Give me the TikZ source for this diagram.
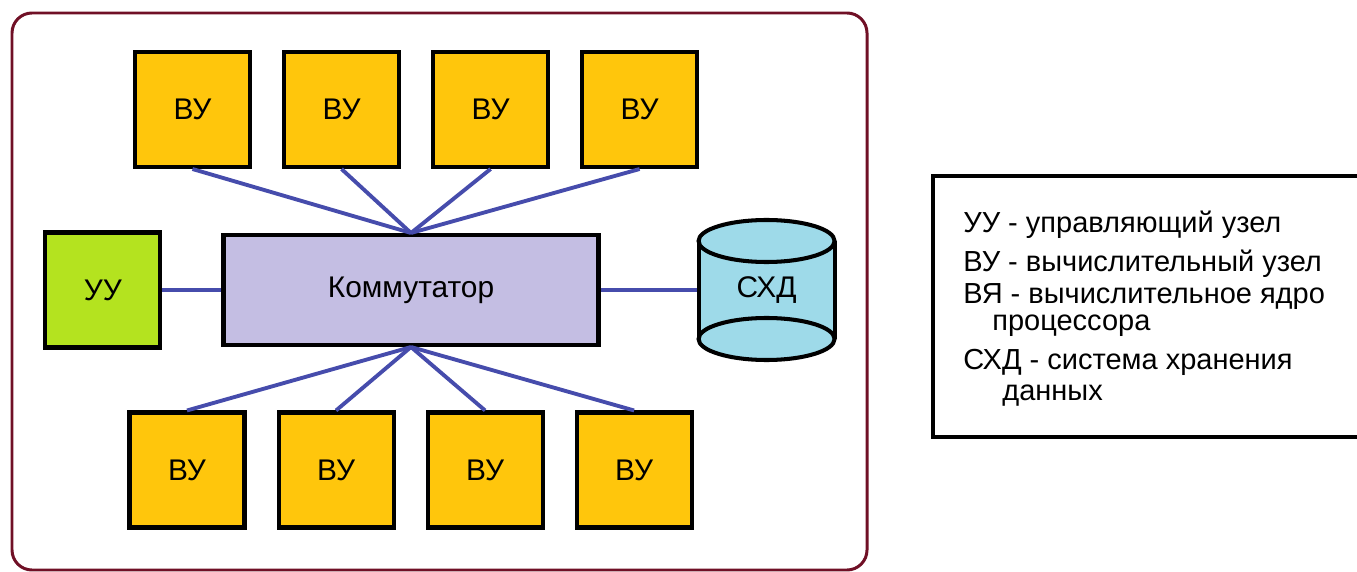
\documentclass[tikz,border=0pt]{standalone}
\usepackage{fontspec}
\setmainfont{Liberation Sans}
\usetikzlibrary{positioning,backgrounds}

\definecolor{vuorange}{RGB}{255,198,12}
\definecolor{uugreen}{RGB}{180,227,31}
\definecolor{kommlilac}{RGB}{196,190,227}
\definecolor{sxdblue}{RGB}{158,218,233}
\definecolor{linkblue}{RGB}{70,76,172}
\definecolor{framered}{RGB}{112,16,38}

\begin{document}
\begin{tikzpicture}[
      vubox/.style={
         rectangle,
         draw=black,
         fill=vuorange,
         line width=2.3pt,
         minimum size=2.3cm,
         font=\fontsize{17}{19}\selectfont},
      uubox/.style={vubox, fill=uugreen},
      kommbox/.style={vubox, fill=kommlilac,
         minimum width=7.5cm, minimum height=2.2cm},
      sxdbox/.style={rectangle, line width=2.3pt,
         minimum width=2.72cm, minimum height=2.8cm,
         font=\fontsize{17}{19}\selectfont},
      drum/.style={draw=black, line width=2.3pt},
      link/.style={draw=linkblue, line width=2.2pt},
      keytext/.style={anchor=base west, inner sep=0pt,
         font=\fontsize{16.5}{19}\selectfont},
      node distance=0.6cm and 0.6cm
      ]
      \useasboundingbox (0,0) rectangle (27.14,-11.44);

      % outer frame of the cluster
      \draw[framered, line width=1.7pt, rounded corners=0.4cm]
         (0.24,-0.26) rectangle (17.34,-11.4);

      \node[kommbox] (komm) at (8.22,-5.8) {Коммутатор};
      \node[uubox, left = 1.18cm of komm] (uu) {УУ};
      \node[sxdbox, right = 1.92cm of komm] (sxd) {СХД};

      % upper row of compute nodes
      \node[vubox] (vu1) at (3.85,-2.19) {ВУ};
      \node[vubox, right = of vu1] (vu2) {ВУ};
      \node[vubox, right = of vu2] (vu3) {ВУ};
      \node[vubox, right = of vu3] (vu4) {ВУ};

      % lower row of compute nodes
      \node[vubox] (vd1) at (3.74,-9.4) {ВУ};
      \node[vubox, right = of vd1] (vd2) {ВУ};
      \node[vubox, right = of vd2] (vd3) {ВУ};
      \node[vubox, right = of vd3] (vd4) {ВУ};

      % storage drum behind its label
      \begin{scope}[on background layer, shift={(sxd.center)}]
        \fill[sxdblue] (-1.36,0.98) -- (-1.36,-0.98) arc (180:360:1.36 and 0.42)
           -- (1.36,0.98) arc (0:180:1.36 and 0.42) -- cycle;
        \draw[drum] (0,0.98) ellipse (1.36 and 0.42);
        \draw[drum] (0,-0.98) ellipse (1.36 and 0.42);
        \draw[drum] (-1.36,0.98) -- (-1.36,-0.98);
        \draw[drum] (1.36,0.98) -- (1.36,-0.98);
      \end{scope}

    \foreach \i in {1,...,4}{
       \draw[link] (vu\i.south) -- (komm.north);
       \draw[link] (komm.south) -- (vd\i.north);
    }
\draw[link] (uu) -- (komm);
\draw[link] (komm) -- (sxd);
%
% legend
\draw[line width=2.3pt] (18.66,-3.52) rectangle (27.6,-8.74);
\node[keytext] (key1) at (19.26,-4.66) {УУ - управляющий узел};
\node[keytext] (key2) at (19.26,-5.44) {ВУ - вычислительный узел};
\node[keytext] (key3) at (19.26,-6.06) {ВЯ - вычислительное ядро};
\node[keytext] (key3b) at (19.84,-6.6) {процессора};
\node[keytext] (key4) at (19.26,-7.4) {СХД - система хранения};
\node[keytext] (key4b) at (20.04,-8.0) {данных};

    \end{tikzpicture}
\end{document}
